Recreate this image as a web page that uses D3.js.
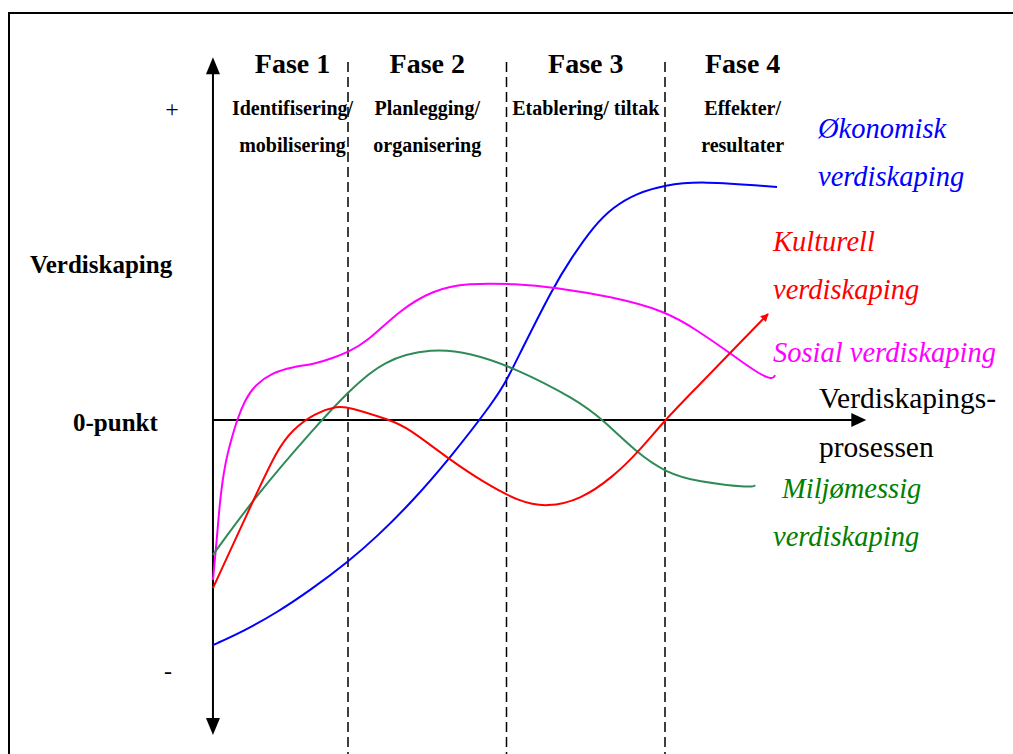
<!DOCTYPE html>
<html>
<head>
<meta charset="utf-8">
<script src="https://cdn.jsdelivr.net/npm/d3@7"></script>
<style>
  body { margin: 0; background: #fff; }
</style>
</head>
<body>
<div id="chart"></div>
<script>
// x in phase units (phase boundaries at 1, 2, 3), y in value units (0 = 0-punkt)
const phases = ["Fase 1", "Fase 2", "Fase 3", "Fase 4"];
const phaseX = [0.65, 1.5, 2.5, 3.49];
const phaseSub = [["Identifisering/", "mobilisering"], ["Planlegging/", "organisering"], ["Etablering/ tiltak"], ["Effekter/", "resultater"]];
const boundaries = [1, 2, 3];

const okonomisk = [[0.148,-7.26],[0.338,-6.82],[0.552,-6.21],[0.76,-5.50],[1.0,-4.58],[1.183,-3.76],[1.391,-2.71],[1.644,-1.23],[1.927,0.65],[2.003,1.29],[2.104,2.35],[2.293,4.26],[2.401,5.16],[2.546,6.23],[2.672,6.87],[2.823,7.32],[3.0,7.58],[3.221,7.71],[3.707,7.52]];
const kulturell = [[0.148,-5.42],[0.413,-2.48],[0.552,-0.97],[0.647,-0.32],[0.792,0.23],[0.937,0.45],[1.0,0.42],[1.265,0],[1.372,-0.23],[1.644,-1.29],[1.852,-2.0],[2.085,-2.65],[2.256,-2.81],[2.464,-2.58],[2.672,-1.84],[2.842,-0.97],[3.0,0],[3.202,1.06],[3.41,2.16],[3.65,3.42]];
const miljo = [[0.148,-4.35],[0.413,-2.48],[0.792,-0.23],[1.0,0.90],[1.221,1.94],[1.536,2.32],[1.77,2.16],[2.04,1.71],[2.445,0.65],[2.609,0],[2.823,-1.06],[3.0,-1.68],[3.202,-2.0],[3.555,-2.19],[3.568,-2.10]];
const sosial = [[0.148,-5.16],[0.174,-3.77],[0.192,-2.58],[0.224,-1.39],[0.268,-0.55],[0.30,0],[0.35,0.65],[0.413,1.13],[0.521,1.52],[0.647,1.71],[0.792,1.81],[0.905,2.0],[1.0,2.19],[1.12,2.52],[1.328,3.55],[1.536,4.19],[1.751,4.42],[2.066,4.39],[2.293,4.29],[2.672,3.97],[3.0,3.52],[3.202,2.90],[3.41,2.16],[3.58,1.52],[3.681,1.29],[3.694,1.45]];

const width = 1013, height = 754;
const svg = d3.select("#chart").append("svg")
    .attr("width", width)
    .attr("height", height)
    .attr("font-family", "'Liberation Serif', 'DejaVu Serif', serif");

const x = d3.scaleLinear().domain([0, 4]).range([189.5, 823.5]);
const y = d3.scaleLinear().domain([-10, 10]).range([730, 110]);

const axisX0 = 0.148, axisX1 = 4.27;
const axisYTop = 11.7, axisYBot = -10.16;

// frame
svg.append("rect")
    .attr("x", 9).attr("y", 13)
    .attr("width", 1100).attr("height", 800)
    .attr("fill", "none").attr("stroke", "#000").attr("stroke-width", 2);

// phase boundaries
svg.selectAll("line.fase")
    .data(boundaries)
    .enter().append("line")
    .attr("class", "fase")
    .attr("x1", d => x(d)).attr("x2", d => x(d))
    .attr("y1", 62).attr("y2", height)
    .attr("stroke", "#000").attr("stroke-width", 1.5)
    .attr("stroke-dasharray", "10,5");

// axes
svg.append("line")
    .attr("x1", x(axisX0)).attr("x2", x(axisX0))
    .attr("y1", y(axisYTop) + 12).attr("y2", y(axisYBot) - 12)
    .attr("stroke", "#000").attr("stroke-width", 2);
svg.append("line")
    .attr("x1", x(axisX0)).attr("x2", x(axisX1) - 12)
    .attr("y1", y(0)).attr("y2", y(0))
    .attr("stroke", "#000").attr("stroke-width", 2);

const ax = x(axisX0);
svg.append("path")
    .attr("d", `M${ax},${y(axisYTop)} L${ax - 7},${y(axisYTop) + 17} L${ax + 7},${y(axisYTop) + 17} Z`)
    .attr("fill", "#000");
svg.append("path")
    .attr("d", `M${ax},${y(axisYBot)} L${ax - 7},${y(axisYBot) - 17} L${ax + 7},${y(axisYBot) - 17} Z`)
    .attr("fill", "#000");
svg.append("path")
    .attr("d", `M${x(axisX1)},${y(0)} L${x(axisX1) - 15},${y(0) - 7} L${x(axisX1) - 15},${y(0) + 7} Z`)
    .attr("fill", "#000");

// red arrowhead marker
svg.append("defs").append("marker")
    .attr("id", "redArrow")
    .attr("viewBox", "0 0 10 10")
    .attr("refX", 9).attr("refY", 5)
    .attr("markerWidth", 5).attr("markerHeight", 4)
    .attr("markerUnits", "strokeWidth")
    .attr("orient", "auto")
    .append("path")
    .attr("d", "M0,0 L10,5 L0,10 Z")
    .attr("fill", "#ff0000");

const line = d3.line()
    .x(d => x(d[0]))
    .y(d => y(d[1]))
    .curve(d3.curveBasis);

const series = [
    { data: okonomisk, color: "#0000ff" },
    { data: sosial, color: "#ff00ff" },
    { data: miljo, color: "#2e8b57" },
    { data: kulturell, color: "#ff0000", arrow: true }
];

series.forEach(s => {
    svg.append("path")
        .datum(s.data)
        .attr("d", line)
        .attr("fill", "none")
        .attr("stroke", s.color)
        .attr("stroke-width", 2)
        .attr("marker-end", s.arrow ? "url(#redArrow)" : null);
});

// phase titles
svg.selectAll("text.fase")
    .data(phases)
    .enter().append("text")
    .attr("class", "fase")
    .attr("x", (d, i) => x(phaseX[i]))
    .attr("y", 73)
    .attr("text-anchor", "middle")
    .attr("font-size", 28)
    .attr("font-weight", "bold")
    .text(d => d);

phaseSub.forEach((lines, i) => {
    lines.forEach((t, j) => {
        svg.append("text")
            .attr("x", x(phaseX[i]))
            .attr("y", 115 + j * 37)
            .attr("text-anchor", "middle")
            .attr("font-size", 20)
            .attr("font-weight", "bold")
            .text(t);
    });
});

// y-axis labels
svg.append("text").attr("x", 172).attr("y", y(10) + 7)
    .attr("text-anchor", "middle").attr("font-size", 24).text("+");
svg.append("text").attr("x", 168).attr("y", y(-8.16) + 6)
    .attr("text-anchor", "middle").attr("font-size", 24).text("-");
svg.append("text").attr("x", 30).attr("y", 273)
    .attr("font-size", 25).attr("font-weight", "bold").text("Verdiskaping");
svg.append("text").attr("x", 73).attr("y", y(0) + 11)
    .attr("font-size", 25).attr("font-weight", "bold").text("0-punkt");

// x-axis label
svg.append("text").attr("x", 819).attr("y", 408)
    .attr("font-size", 29.5).text("Verdiskapings-");
svg.append("text").attr("x", 819).attr("y", 457)
    .attr("font-size", 29.5).text("prosessen");

// series labels
const labels = [
    { lines: ["Økonomisk", "verdiskaping"], x: 818, y: 138, color: "#0000ff" },
    { lines: ["Kulturell", "verdiskaping"], x: 773, y: 251, color: "#ff0000" },
    { lines: ["Sosial verdiskaping"], x: 773, y: 362, color: "#ff00ff" },
    { lines: ["Miljømessig", "verdiskaping"], x: 782, y: 498, color: "#008000", x2: 773 }
];
labels.forEach(l => {
    l.lines.forEach((t, j) => {
        svg.append("text")
            .attr("x", j > 0 && l.x2 ? l.x2 : l.x)
            .attr("y", l.y + j * 48)
            .attr("font-size", 28.5)
            .attr("font-style", "italic")
            .attr("fill", l.color)
            .text(t);
    });
});
</script>
</body>
</html>
